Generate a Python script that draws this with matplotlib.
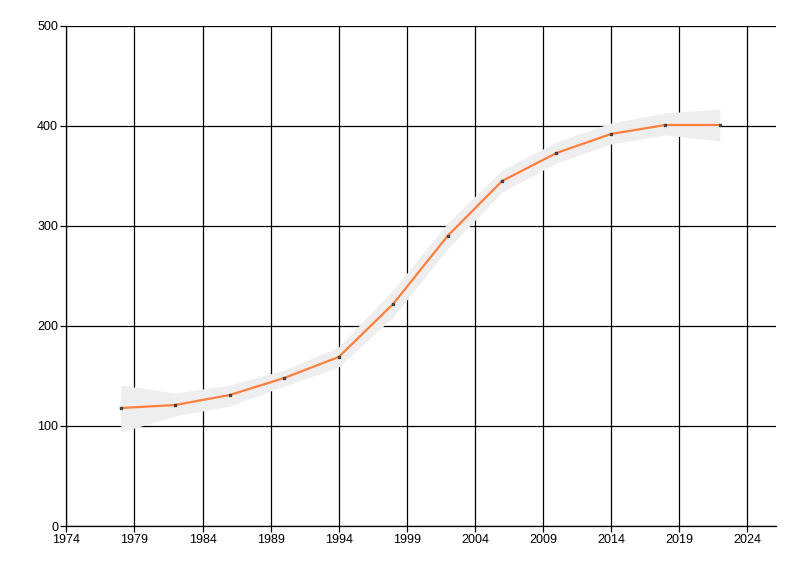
import numpy as np
import matplotlib
matplotlib.use("Agg")
import matplotlib.pyplot as plt

plt.rcParams['font.family'] = ['Liberation Sans', 'DejaVu Sans']
plt.rcParams['font.size'] = 9

# data
years = [1978, 1982, 1986, 1990, 1994, 1998, 2002, 2006, 2010, 2014, 2018, 2022]
values = [118, 121, 131, 148, 169, 222, 290, 345, 373, 392, 401, 401]
band_upper = [141, 133, 141, 156, 179, 236, 303, 356, 384, 403, 413, 417]
band_lower = [94, 110, 120, 140, 159, 209, 277, 334, 363, 382, 391, 385]

x_ticks = [1974, 1979, 1984, 1989, 1994, 1999, 2004, 2009, 2014, 2019, 2024]
y_ticks = [0, 100, 200, 300, 400, 500]

fig = plt.figure(figsize=(8, 5.76), dpi=100)
ax = fig.add_axes([0.083, 0.0868, 0.8866, 0.8681])

ax.fill_between(years, band_lower, band_upper, color="#eeeeee", lw=0, zorder=2)
ax.plot(years, values, color="#ff7f3f", lw=1.6, zorder=3)
ax.plot(years, values, ls="none", marker="s", ms=1.6, color="#444444", zorder=4)

ax.set_xlim(1974, 2026.1)
ax.set_ylim(0, 500)
ax.set_xticks(x_ticks)
ax.set_yticks(y_ticks)
ax.grid(True, color="black", lw=0.9, zorder=1)
ax.set_axisbelow(True)

for side in ("top", "right"):
    ax.spines[side].set_visible(False)
for side in ("left", "bottom"):
    ax.spines[side].set_linewidth(0.9)
ax.tick_params(length=4.5, width=0.9, color="black", labelcolor="black", pad=1.5)

fig.savefig("out.png", dpi=100)
